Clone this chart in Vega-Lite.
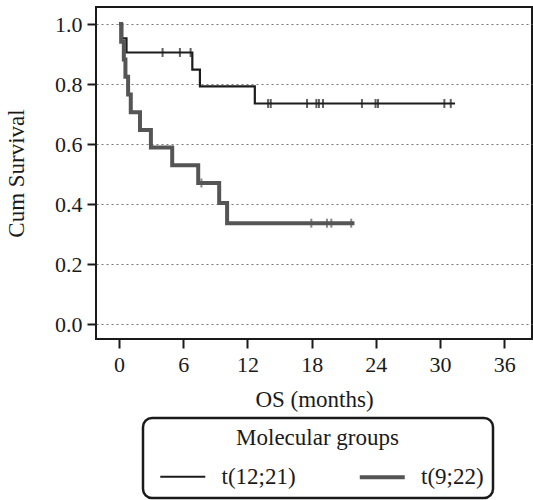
{
  "$schema": "https://vega.github.io/schema/vega-lite/v6.json",
  "width": 436,
  "height": 332,
  "autosize": "none",
  "padding": {"left": 96, "top": 7, "right": 1, "bottom": 161},
  "background": "white",
  "datasets": {
    "curves": [
      {"group": "t(12;21)", "t": 0, "surv": 1.0},
      {"group": "t(12;21)", "t": 0.3, "surv": 0.952},
      {"group": "t(12;21)", "t": 0.7, "surv": 0.905},
      {"group": "t(12;21)", "t": 6.85, "surv": 0.848},
      {"group": "t(12;21)", "t": 7.56, "surv": 0.792},
      {"group": "t(12;21)", "t": 12.69, "surv": 0.735},
      {"group": "t(12;21)", "t": 31.4, "surv": 0.735},
      {"group": "t(9;22)", "t": 0, "surv": 1.0},
      {"group": "t(9;22)", "t": 0.2, "surv": 0.941},
      {"group": "t(9;22)", "t": 0.45, "surv": 0.882},
      {"group": "t(9;22)", "t": 0.6, "surv": 0.824},
      {"group": "t(9;22)", "t": 0.85, "surv": 0.765},
      {"group": "t(9;22)", "t": 1.1, "surv": 0.706},
      {"group": "t(9;22)", "t": 1.96, "surv": 0.647},
      {"group": "t(9;22)", "t": 2.98, "surv": 0.588},
      {"group": "t(9;22)", "t": 4.97, "surv": 0.529},
      {"group": "t(9;22)", "t": 7.4, "surv": 0.470},
      {"group": "t(9;22)", "t": 9.36, "surv": 0.403},
      {"group": "t(9;22)", "t": 10.1, "surv": 0.336},
      {"group": "t(9;22)", "t": 22.0, "surv": 0.336}
    ],
    "censor": [
      {"group": "t(12;21)", "t": 4.07, "surv": 0.905},
      {"group": "t(12;21)", "t": 5.69, "surv": 0.905},
      {"group": "t(12;21)", "t": 6.69, "surv": 0.905},
      {"group": "t(12;21)", "t": 13.93, "surv": 0.735},
      {"group": "t(12;21)", "t": 14.18, "surv": 0.735},
      {"group": "t(12;21)", "t": 17.57, "surv": 0.735},
      {"group": "t(12;21)", "t": 18.44, "surv": 0.735},
      {"group": "t(12;21)", "t": 18.68, "surv": 0.735},
      {"group": "t(12;21)", "t": 19.06, "surv": 0.735},
      {"group": "t(12;21)", "t": 22.7, "surv": 0.735},
      {"group": "t(12;21)", "t": 23.97, "surv": 0.735},
      {"group": "t(12;21)", "t": 24.2, "surv": 0.735},
      {"group": "t(12;21)", "t": 30.4, "surv": 0.735},
      {"group": "t(12;21)", "t": 31.0, "surv": 0.735},
      {"group": "t(9;22)", "t": 7.7, "surv": 0.470},
      {"group": "t(9;22)", "t": 17.97, "surv": 0.336},
      {"group": "t(9;22)", "t": 19.43, "surv": 0.336},
      {"group": "t(9;22)", "t": 19.84, "surv": 0.336},
      {"group": "t(9;22)", "t": 21.7, "surv": 0.336}
    ]
  },
  "layer": [
    {
      "data": {"name": "curves"},
      "mark": {"type": "line", "interpolate": "step-after"},
      "encoding": {
        "x": {
          "field": "t", "type": "quantitative",
          "scale": {"domain": [-2.15, 38.59], "nice": false, "zero": false},
          "axis": {"values": [0, 6, 12, 18, 24, 30, 36], "grid": false, "title": "OS (months)", "labelPadding": 6, "titlePadding": 13}
        },
        "y": {
          "field": "surv", "type": "quantitative",
          "scale": {"domain": [-0.05, 1.0567], "nice": false, "zero": false},
          "axis": {"values": [0, 0.2, 0.4, 0.6, 0.8, 1.0], "format": ".1f", "grid": true, "gridDash": [2, 3], "gridColor": "#777777", "gridWidth": 1, "title": "Cum Survival", "labelPadding": 5, "titlePadding": 26}
        },
        "color": {
          "field": "group", "type": "nominal",
          "scale": {"domain": ["t(12;21)", "t(9;22)"], "range": ["#1c1c1c", "#555555"]},
          "title": "Molecular groups",
          "legend": {"encode": {"legend": {"update": {"strokeWidth": {"value": 2.5}}}}}
        },
        "strokeWidth": {
          "field": "group", "type": "nominal",
          "scale": {"type": "ordinal", "domain": ["t(12;21)", "t(9;22)"], "range": [2.2, 4]},
          "title": "Molecular groups"
        }
      }
    },
    {
      "data": {"name": "censor"},
      "mark": {"type": "tick", "orient": "vertical", "size": 9, "thickness": 2},
      "encoding": {
        "x": {"field": "t", "type": "quantitative"},
        "y": {"field": "surv", "type": "quantitative"},
        "color": {"field": "group", "type": "nominal", "title": "Molecular groups"}
      }
    }
  ],
  "config": {
    "view": {"stroke": "#1a1a1a", "strokeWidth": 2},
    "axis": {
      "domain": false,
      "labelFont": "Liberation Serif",
      "labelFontSize": 22,
      "labelColor": "#1a1a1a",
      "titleFont": "Liberation Serif",
      "titleFontSize": 23,
      "titleFontWeight": "normal",
      "titleColor": "#1a1a1a",
      "tickColor": "#1a1a1a",
      "tickWidth": 2,
      "tickSize": 9
    },
    "legend": {
      "orient": "none",
      "legendX": 47,
      "legendY": 411,
      "direction": "horizontal",
      "columns": 2,
      "columnPadding": 54.5,
      "symbolType": "M-0.42,0H3.58",
      "symbolSize": 506,
      "labelFont": "Liberation Serif",
      "labelFontSize": 23,
      "labelColor": "#1a1a1a",
      "labelOffset": 43,
      "titleFont": "Liberation Serif",
      "titleFontSize": 23,
      "titleFontWeight": "normal",
      "titleColor": "#1a1a1a",
      "titleAnchor": "middle",
      "titleOrient": "top",
      "titlePadding": 14,
      "padding": 8.5,
      "strokeColor": "#1a1a1a",
      "cornerRadius": 9
    }
  }
}
